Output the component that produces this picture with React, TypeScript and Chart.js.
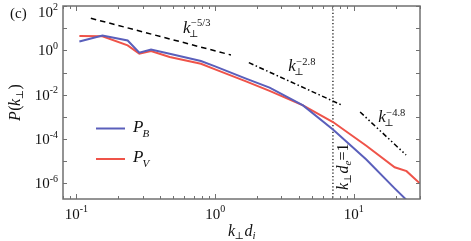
import { useEffect, useRef } from "react";
import { Chart, registerables } from "chart.js";

Chart.register(...registerables);

// ---- data ----
const kPerp = [0.105, 0.154, 0.234, 0.284, 0.345, 0.47, 0.79, 1.0, 1.67, 2.47, 4.3, 7.07, 12.3, 19.7, 24, 30];
const pB = [2.5, 4.7, 2.8, 0.79, 1.1, 0.71, 0.33, 0.19, 0.053, 0.021, 0.0033, 2.7e-4, 1.2e-5, 6e-7, 1.8e-7, 3e-8];
const pV = [4.4, 4.3, 1.68, 0.71, 0.93, 0.5, 0.25, 0.14, 0.04, 0.015, 0.0033, 5.9e-4, 5e-5, 5.4e-6, 3.6e-6, 1.0e-6];

const slope53K = [0.127, 1.3];
const slope53P = [28, 0.62];
const slope28K = [1.75, 8.26];
const slope28P = [0.279, 0.00333];
const slope48K = [11.1, 23.8];
const slope48P = [1.67e-3, 1.93e-5];

const kDe1 = 7.07;
const xRange = [0.08, 30];
const yRange = [2e-7, 100];
const xTickExps = ["-1", "0", "1"];
const yTickExps = ["2", "0", "-2", "-4", "-6"];
const seriesNames = ["P", "P"];
const seriesSubs = ["B", "V"];

const BLUE = "#5a5fbb";
const RED = "#ef5349";
const AXIS = "#707070";
const SERIF = '"Liberation Serif","DejaVu Serif",serif';
const fnt = (size: number, italic = false) => `${italic ? "italic " : ""}${size}px ${SERIF}`;

function txt(ctx: CanvasRenderingContext2D, s: string, x: number, y: number, font: string) {
  ctx.font = font;
  ctx.fillText(s, x, y);
  return ctx.measureText(s).width;
}
function wid(ctx: CanvasRenderingContext2D, s: string, font: string) {
  ctx.font = font;
  return ctx.measureText(s).width;
}

function powerLabel(ctx: CanvasRenderingContext2D, x: number, y: number, exp: string) {
  const wk = txt(ctx, "k", x, y, fnt(17, true));
  txt(ctx, "⊥", x + wk - 1.5, y + 4, fnt(10));
  txt(ctx, exp, x + wk + 0.5, y - 6.5, fnt(10.5));
}

const decorPlugin = {
  id: "decor",
  afterDraw(chart: any) {
    const ctx: CanvasRenderingContext2D = chart.ctx;
    const { left, right, top, bottom } = chart.chartArea;
    const xs = chart.scales.x;
    const ys = chart.scales.y;
    ctx.save();
    // frame
    ctx.strokeStyle = AXIS;
    ctx.lineWidth = 1.5;
    ctx.strokeRect(left, top, right - left, bottom - top);
    ctx.lineWidth = 1;
    ctx.beginPath();
    // x ticks (log minors)
    for (let d = -2; d <= 2; d++) {
      for (let m = 1; m <= 9; m++) {
        const v = m * Math.pow(10, d);
        if (v < xRange[0] || v > xRange[1]) continue;
        const px = Math.round(xs.getPixelForValue(v)) + 0.5;
        const len = m === 1 ? 5 : 3;
        ctx.moveTo(px, bottom);
        ctx.lineTo(px, bottom - len);
        ctx.moveTo(px, top);
        ctx.lineTo(px, top + len);
      }
    }
    // y ticks (each decade)
    for (let e = -7; e <= 2; e++) {
      const v = Math.pow(10, e);
      if (v < yRange[0] || v > yRange[1]) continue;
      const py = Math.round(ys.getPixelForValue(v)) + 0.5;
      ctx.moveTo(left, py);
      ctx.lineTo(left + 4, py);
      ctx.moveTo(right, py);
      ctx.lineTo(right - 4, py);
    }
    ctx.stroke();

    ctx.fillStyle = "#111";
    ctx.textBaseline = "alphabetic";
    ctx.textAlign = "left";
    // x tick labels
    for (const e of xTickExps) {
      const px = xs.getPixelForValue(Math.pow(10, Number(e)));
      const wb = wid(ctx, "10", fnt(15));
      const we = wid(ctx, e, fnt(10));
      const x0 = px - (wb + we) / 2;
      txt(ctx, "10", x0, bottom + 19.5, fnt(15));
      txt(ctx, e, x0 + wb, bottom + 13, fnt(10));
    }
    // y tick labels
    for (const e of yTickExps) {
      const py = Math.max(ys.getPixelForValue(Math.pow(10, Number(e))), 11.5);
      const wb = wid(ctx, "10", fnt(15));
      const we = wid(ctx, e, fnt(10));
      const x0 = left - 5 - (wb + we);
      txt(ctx, "10", x0, py + 5, fnt(15));
      txt(ctx, e, x0 + wb, py - 1.5, fnt(10));
    }
    // panel letter
    txt(ctx, "(c)", 10, 18, fnt(15));

    // x title
    {
      let x = 228;
      const y = 236;
      x += txt(ctx, "k", x, y, fnt(16, true));
      x += txt(ctx, "⊥", x - 0.5, y + 3, fnt(10)) + 0;
      x += txt(ctx, "d", x, y, fnt(16, true));
      txt(ctx, "i", x, y + 3, fnt(11, true));
    }
    // y title (rotated)
    {
      ctx.save();
      ctx.translate(20, 121);
      ctx.rotate(-Math.PI / 2);
      let x = 0;
      x += txt(ctx, "P", x, 0, fnt(16, true));
      x += txt(ctx, "(", x + 0.5, 0, fnt(16));
      x += txt(ctx, "k", x, 0, fnt(16, true));
      x += txt(ctx, "⊥", x - 0.5, 3, fnt(10));
      txt(ctx, ")", x, 0, fnt(16));
      ctx.restore();
    }
    // power-law labels
    powerLabel(ctx, xs.getPixelForValue(0.587), ys.getPixelForValue(6.07), "−5/3");
    powerLabel(ctx, xs.getPixelForValue(3.37), ys.getPixelForValue(0.112), "−2.8");
    powerLabel(ctx, xs.getPixelForValue(15.0), ys.getPixelForValue(5.9e-4), "−4.8");

    // rotated k_perp d_e = 1
    {
      ctx.save();
      ctx.translate(348, 190);
      ctx.rotate(-Math.PI / 2);
      let x = 0;
      x += txt(ctx, "k", x, 0, fnt(16, true));
      x += txt(ctx, "⊥", x - 0.5, 3, fnt(10));
      x += txt(ctx, "d", x, 0, fnt(16, true));
      x += txt(ctx, "e", x, 3, fnt(11, true));
      x += txt(ctx, "=", x, 0, fnt(16));
      txt(ctx, "1", x, 0, fnt(16));
      ctx.restore();
    }

    // legend
    const legY = [128.5, 159];
    const legColors = [chart.data.datasets[0].borderColor, chart.data.datasets[1].borderColor];
    for (let i = 0; i < 2; i++) {
      ctx.strokeStyle = legColors[i];
      ctx.lineWidth = 2;
      ctx.beginPath();
      ctx.moveTo(96, legY[i]);
      ctx.lineTo(125, legY[i]);
      ctx.stroke();
      const base = legY[i] + 3;
      const wp = txt(ctx, seriesNames[i], 133, base, fnt(17, true));
      txt(ctx, seriesSubs[i], 133 + wp - 1, base + 5, fnt(11, true));
    }
    ctx.restore();
  },
};

const pts = (xs: number[], ys: number[]) => xs.map((x, i) => ({ x, y: ys[i] }));

export default function App() {
  const ref = useRef<HTMLCanvasElement | null>(null);
  useEffect(() => {
    if (!ref.current) return;
    const chart = new Chart(ref.current, {
      type: "line",
      data: {
        datasets: [
          { label: "P_B", data: pts(kPerp, pB), borderColor: BLUE, borderWidth: 2, pointRadius: 0, fill: false },
          { label: "P_V", data: pts(kPerp, pV), borderColor: RED, borderWidth: 2, pointRadius: 0, fill: false },
          { label: "k^-5/3", data: pts(slope53K, slope53P), borderColor: "#000", borderWidth: 1.5, borderDash: [5.5, 4], pointRadius: 0 },
          { label: "k^-2.8", data: pts(slope28K, slope28P), borderColor: "#000", borderWidth: 1.5, borderDash: [5, 2.5, 1.5, 2.5], pointRadius: 0 },
          { label: "k^-4.8", data: pts(slope48K, slope48P), borderColor: "#000", borderWidth: 1.5, borderDash: [5, 2.5, 1.5, 2.5, 1.5, 2.5], pointRadius: 0 },
          { label: "kde=1", data: pts([kDe1, kDe1], [yRange[1], yRange[0]]), borderColor: "#000", borderWidth: 1.2, borderDash: [1.2, 2.2], pointRadius: 0 },
        ],
      },
      options: {
        animation: false,
        responsive: false,
        devicePixelRatio: 1,
        layout: { padding: { left: 63, top: 6, right: 51, bottom: 42 } },
        plugins: { legend: { display: false }, tooltip: { enabled: false } },
        scales: {
          x: { type: "logarithmic", min: xRange[0], max: xRange[1], display: false },
          y: { type: "logarithmic", min: yRange[0], max: yRange[1], display: false },
        },
      },
      plugins: [decorPlugin],
    });
    return () => chart.destroy();
  }, []);
  return (
    <div style={{ position: "fixed", left: 0, top: 0, width: 471, height: 241, background: "#fff" }}>
      <canvas ref={ref} width={471} height={241} style={{ display: "block" }} />
    </div>
  );
}
